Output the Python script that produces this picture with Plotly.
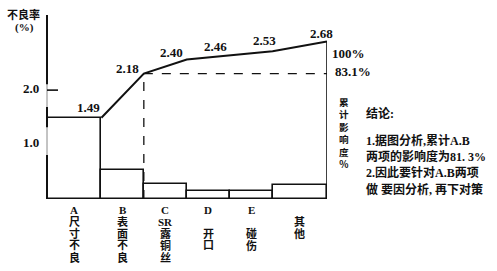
import plotly.graph_objects as go

# ---------------- data ----------------
categories = ["A", "B", "C", "D", "E", "其他"]
cat_labels = [["A", "尺", "寸", "不", "良"],
              ["B", "表", "面", "不", "良"],
              ["C", "SR", "露", "铜", "丝"],
              ["D", "", "开", "口"],
              ["E", "", "碰", "伤"],
              ["", "其", "他"]]
bar_values = [1.49, 0.54, 0.28, 0.14, 0.14, 0.26]
cum_values = [1.49, 2.18, 2.40, 2.46, 2.53, 2.68]
cum_labels = ["1.49", "2.18", "2.40", "2.46", "2.53", "2.68"]
y_ticks = [1.0, 2.0]
y_tick_labels = ["1.0", "2.0"]
pct_labels = ["100%", "83.1%"]
side_title = ["累", "计", "影", "响", "度", "%"]
conclusion = ["结论:", "1.据图分析,累计A.B", "两项的影响度为81. 3%",
              "2.因此要针对A.B两项", "做 要因分析, 再下对策"]
y_title = ["不良率", "(%)"]

# ---------------- style / layout ----------------
BAR_WIDTHS = [54.5, 42.5, 43, 43, 43, 54.5]
Y_RANGE = [0, 3.38]
Y2_RANGE = [0.2197, 3.0947]
SERIF = "Liberation Serif, 'Noto Sans CJK SC', serif"
CJK = "'Noto Sans CJK SC', 'Liberation Serif', sans-serif"
INK = "#111111"
LABEL_SHIFT = [(-13, 10), (-16, 5), (-15, 7), (-14, 9), (-8, 11), (-6, 8)]

edges = [0]
for w in BAR_WIDTHS:
    edges.append(edges[-1] + w)
centers = [(edges[i] + edges[i + 1]) / 2 for i in range(len(BAR_WIDTHS))]
x_max = edges[-1]

fig = go.Figure()
fig.add_trace(go.Bar(
    x=centers, y=bar_values, width=BAR_WIDTHS,
    marker=dict(color="white", line=dict(color=INK, width=1.6)),
    hoverinfo="skip", showlegend=False, text=categories, textposition="none"))

fig.add_trace(go.Scatter(
    x=edges[1:], y=cum_values, yaxis="y2", mode="lines",
    line=dict(color=INK, width=2), showlegend=False, hoverinfo="skip"))

shapes = []
# left axis: thin continuous line plus thicker segments
shapes.append(dict(type="line", xref="paper", x0=0, x1=0, yref="y",
                   y0=Y_RANGE[0], y1=Y_RANGE[1], line=dict(color="#888888", width=1)))
for a, b in [(0, 0.81), (1.32, 1.69), (2.11, Y_RANGE[1])]:
    shapes.append(dict(type="line", xref="paper", x0=0, x1=0, yref="y",
                       y0=a, y1=b, line=dict(color=INK, width=2)))
# tick at 2.0
shapes.append(dict(type="line", xref="paper", x0=0, x1=11 / 280, yref="y",
                   y0=y_ticks[1], y1=y_ticks[1], line=dict(color=INK, width=1.6)))
# right vertical line
shapes.append(dict(type="line", xref="x", x0=x_max, x1=x_max, yref="y2",
                   y0=Y2_RANGE[0], y1=cum_values[-1], line=dict(color=INK, width=1.6)))
# dashed guide lines at cumulative B
shapes.append(dict(type="line", xref="x", x0=edges[2], x1=x_max, yref="y2",
                   y0=cum_values[1], y1=cum_values[1], line=dict(color=INK, width=1.3, dash="dash")))
shapes.append(dict(type="line", xref="x", x0=edges[2], x1=edges[2], yref="y2",
                   y0=Y2_RANGE[0], y1=cum_values[1], line=dict(color=INK, width=1.3, dash="dash")))

ann = []
# cumulative value labels
for xe, v, t, (dx, dy) in zip(edges[1:], cum_values, cum_labels, LABEL_SHIFT):
    ann.append(dict(x=xe, y=v, xref="x", yref="y2", text=f"<b>{t}</b>",
                    showarrow=False, xanchor="center", yanchor="middle",
                    xshift=dx, yshift=dy, font=dict(family=SERIF, size=13, color=INK)))
# y tick labels
for v, t in zip(y_ticks, y_tick_labels):
    ann.append(dict(x=0, y=v, xref="paper", yref="y", text=f"<b>{t}</b>",
                    showarrow=False, xanchor="right", yanchor="middle", xshift=-6, yshift=2,
                    font=dict(family=SERIF, size=13, color=INK)))
# y title
for i, t in enumerate(y_title):
    ann.append(dict(x=0, y=1, xref="paper", yref="paper", text=f"<b>{t}</b>",
                    showarrow=False, xanchor="center", yanchor="middle",
                    xshift=-24 + (1 if i else 0), yshift=1 - 13 * i,
                    font=dict(family=CJK if i == 0 else SERIF, size=11, color=INK)))
# category labels (stacked vertically)
for c, lines in zip(centers, cat_labels):
    for i, t in enumerate(lines):
        if not t:
            continue
        ann.append(dict(x=c, y=0, xref="x", yref="paper", text=f"<b>{t}</b>",
                        showarrow=False, xanchor="center", yanchor="middle",
                        yshift=-11 - 11.8 * i,
                        font=dict(family=SERIF, size=11, color=INK)))
# right percent labels
ann.append(dict(x=x_max, y=cum_values[-1], xref="x", yref="y2", text=f"<b>{pct_labels[0]}</b>",
                showarrow=False, xanchor="left", yanchor="middle", xshift=3, yshift=-12,
                font=dict(family=SERIF, size=13, color=INK)))
ann.append(dict(x=x_max, y=cum_values[1], xref="x", yref="y2", text=f"<b>{pct_labels[1]}</b>",
                showarrow=False, xanchor="left", yanchor="middle", xshift=6, yshift=2,
                font=dict(family=SERIF, size=13, color=INK)))
# vertical side title (one stacked text)
ann.append(dict(x=1, y=1, xref="paper", yref="paper",
                text="<b>" + "<br>".join(side_title) + "</b>",
                showarrow=False, xanchor="center", yanchor="middle", align="center",
                xshift=17, yshift=-118,
                font=dict(family=CJK, size=9.6, color=INK)))
# conclusion text
conc_y = [-98, -125, -141, -157, -174]
for t, dy in zip(conclusion, conc_y):
    ann.append(dict(x=1, y=1, xref="paper", yref="paper", text=f"<b>{t}</b>",
                    showarrow=False, xanchor="left", yanchor="middle",
                    xshift=37, yshift=dy,
                    font=dict(family=SERIF, size=12, color=INK)))

fig.update_layout(
    width=497, height=271,
    margin=dict(l=47, r=170, t=15, b=72),
    paper_bgcolor="white", plot_bgcolor="white",
    bargap=0,
    xaxis=dict(range=[0, x_max], visible=False, fixedrange=True),
    yaxis=dict(range=Y_RANGE, visible=False, fixedrange=True),
    yaxis2=dict(range=Y2_RANGE, overlaying="y", visible=False, fixedrange=True),
    shapes=shapes, annotations=ann,
)

fig.write_html("out.html")
